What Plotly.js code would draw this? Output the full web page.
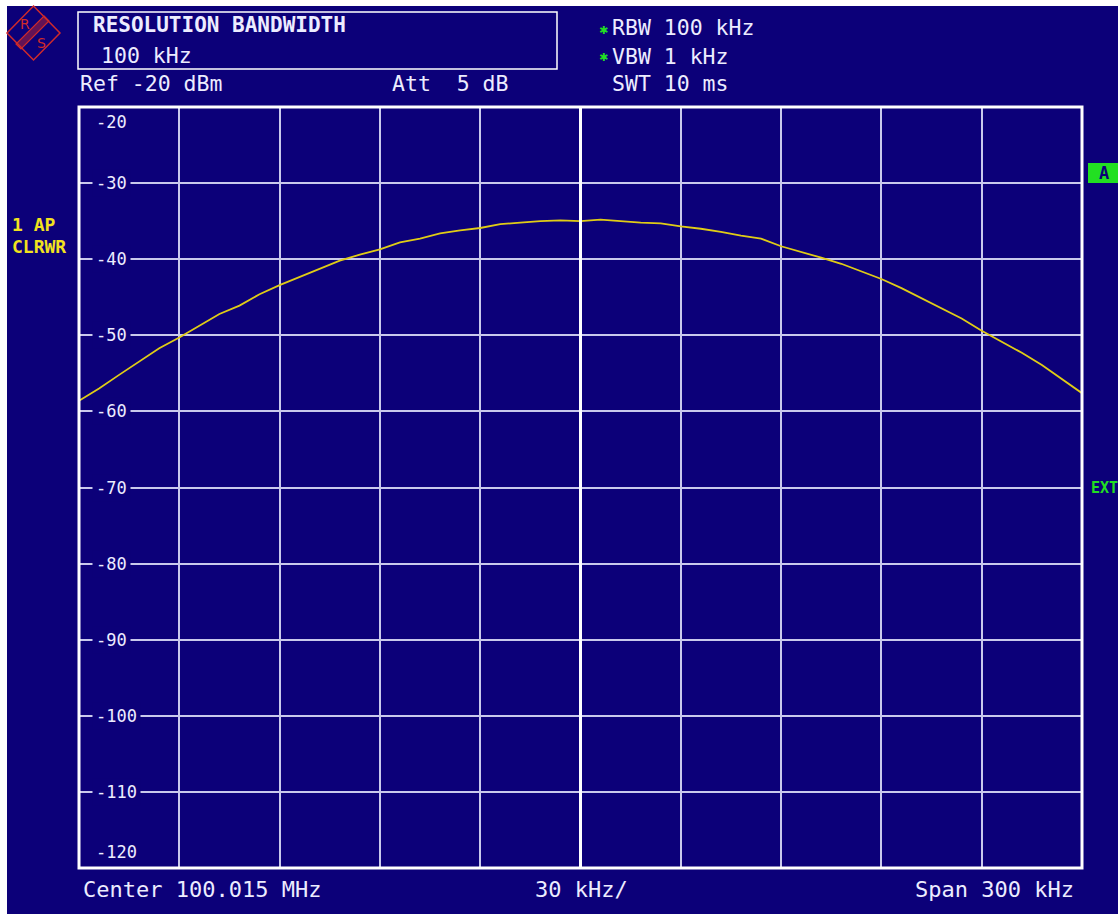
<!DOCTYPE html>
<html>
<head>
<meta charset="utf-8">
<script src="https://cdn.plot.ly/plotly-3.0.1.min.js"></script>
<style>html,body{margin:0;padding:0;background:#ffffff;}#chart{width:1118px;height:914px;}</style>
</head>
<body>
<div id="chart"></div>
<script>
// ---- data ----
const freqOffsetKHz = [-150,-144,-138,-132,-126,-120,-114,-108,-102,-96,-90,-84,-78,-72,-66,-60,-54,-48,-42,-36,-30,-24,-18,-12,-6,0,6,12,18,24,30,36,42,48,54,60,66,72,78,84,90,96,102,108,114,120,126,132,138,144,150];
const levelDBm = [-58.6,-57.0,-55.2,-53.5,-51.7,-50.3,-48.8,-47.2,-46.1,-44.6,-43.4,-42.3,-41.2,-40.2,-39.4,-38.7,-37.8,-37.3,-36.6,-36.2,-35.9,-35.4,-35.2,-35.0,-34.9,-35.0,-34.8,-35.0,-35.2,-35.3,-35.7,-36.0,-36.4,-36.9,-37.3,-38.3,-39.0,-39.8,-40.6,-41.6,-42.6,-43.8,-45.1,-46.4,-47.8,-49.4,-50.8,-52.3,-53.9,-55.8,-57.6];
const yTickValues = [-20,-30,-40,-50,-60,-70,-80,-90,-100,-110,-120];
const yTickLabels = ["-20","-30","-40","-50","-60","-70","-80","-90","-100","-110","-120"];
const headerTitle = "RESOLUTION BANDWIDTH";
const headerValue = "100 kHz";
const refText = "Ref -20 dBm";
const attText = "Att  5 dB";
const rbwText = "RBW 100 kHz";
const vbwText = "VBW 1 kHz";
const swtText = "SWT 10 ms";
const traceLabel1 = "1 AP";
const traceLabel2 = "CLRWR";
const centerText = "Center 100.015 MHz";
const divText = "30 kHz/";
const spanText = "Span 300 kHz";

// ---- layout helpers (pixel -> paper) ----
const W = 1118, H = 914, L = 79, R = 1082, T = 107, B = 868;
const px = x => (x - L) / (R - L);
const py = y => (B - y) / (B - T);
const NAVY = "#0c0079";
const GRID = "#c9c9ec";
const TXT = "#ececff";
const MONO = "DejaVu Sans Mono, Liberation Mono, monospace";

const shapes = [];
shapes.push({type:"rect", xref:"paper", yref:"paper", x0:px(7), x1:px(W+5), y0:py(6), y1:py(H+5),
  fillcolor:NAVY, line:{width:0}, layer:"below"});
shapes.push({type:"line", xref:"x", yref:"paper", x0:0, x1:0, y0:0, y1:1, line:{color:"#ffffff", width:3}});
shapes.push({type:"rect", xref:"paper", yref:"paper", x0:0, x1:1, y0:0, y1:1, line:{color:"#ffffff", width:3}});
shapes.push({type:"rect", xref:"paper", yref:"paper", x0:px(78), x1:px(557), y0:py(12), y1:py(69), line:{color:"#ffffff", width:1.5}});
shapes.push({type:"rect", xref:"paper", yref:"paper", x0:px(1088), x1:px(1125), y0:py(163), y1:py(183), fillcolor:"#22e022", line:{width:0}});
const RED = "#d02a2a";
const dpath = (pts) => "M" + pts.map(p => px(p[0]) + "," + py(p[1])).join(" L") + " Z";
shapes.push({type:"path", xref:"paper", yref:"paper", path:dpath([[33.5,6],[60,33],[33.5,60],[7,33]]), line:{color:RED, width:1.5}});
shapes.push({type:"path", xref:"paper", yref:"paper", path:dpath([[44,16],[49,21],[21,49],[16,44]]), fillcolor:"rgba(208,42,42,0.45)", line:{color:RED, width:1.2}});

const annotations = [];
yTickValues.forEach((v, i) => {
  let yref = "y", y = v, bg = NAVY;
  if (v === -20) { yref = "paper"; y = py(122); bg = "rgba(0,0,0,0)"; }
  if (v === -120) { yref = "paper"; y = py(852); bg = "rgba(0,0,0,0)"; }
  annotations.push({xref:"paper", yref:yref, x:px(92), y:y, xanchor:"left", yanchor:"middle",
    text:yTickLabels[i], showarrow:false, bgcolor:bg, borderpad:3,
    font:{family:MONO, size:17, color:TXT}});
});
const txt = (t, x, y, opts={}) => annotations.push(Object.assign({xref:"paper", yref:"paper", x:px(x), y:py(y),
  xanchor:"left", yanchor:"middle", text:t, showarrow:false,
  font:{family:MONO, size:21.5, color:TXT}}, opts));
txt("<b>" + headerTitle + "</b>", 91, 25, {font:{family:MONO, size:21, color:TXT}});
txt(headerValue, 99, 55);
txt(refText, 78, 84);
txt(attText, 390, 84);
txt("<b>✱</b>", 603, 30, {xanchor:"center", font:{family:"DejaVu Sans", size:11, color:"#22e022"}});
txt("<b>✱</b>", 603, 58, {xanchor:"center", font:{family:"DejaVu Sans", size:11, color:"#22e022"}});
txt(rbwText, 610, 28);
txt(vbwText, 610, 56);
txt(swtText, 610, 84);
txt("<b>" + traceLabel1 + "</b>", 10, 224, {font:{family:MONO, size:18, color:"#f2e21e"}});
txt("<b>" + traceLabel2 + "</b>", 10, 247, {font:{family:MONO, size:18, color:"#f2e21e"}});
txt("<b>A</b>", 1104, 173, {xanchor:"center", font:{family:MONO, size:17, color:NAVY}});
txt("<b>EXT</b>", 1089, 488, {font:{family:MONO, size:15, color:"#22e022"}});
txt(centerText, 81, 889, {font:{family:MONO, size:22, color:TXT}});
txt(divText, 533, 889, {font:{family:MONO, size:22, color:TXT}});
txt(spanText, 1076, 889, {xanchor:"right", font:{family:MONO, size:22, color:TXT}});
txt("R", 25, 24, {xanchor:"center", font:{family:"DejaVu Sans", size:14, color:RED}});
txt("S", 41, 43, {xanchor:"center", font:{family:"DejaVu Sans", size:14, color:RED}});

const trace = {
  x: freqOffsetKHz, y: levelDBm, type:"scatter", mode:"lines",
  line:{color:"#e0cc16", width:1.8, shape:"linear"}, hoverinfo:"skip"
};

const layout = {
  width:W, height:H,
  margin:{l:L, r:W-R, t:T, b:H-B, pad:0},
  paper_bgcolor:"#ffffff", plot_bgcolor:NAVY,
  showlegend:false,
  xaxis:{range:[-150,150], tick0:-150, dtick:30, showgrid:true, gridcolor:GRID, gridwidth:2,
    zeroline:false, showticklabels:false, ticks:"", showline:false, fixedrange:true},
  yaxis:{range:[-120,-20], tick0:-120, dtick:10, showgrid:true, gridcolor:GRID, gridwidth:2,
    zeroline:false, showticklabels:false, ticks:"", showline:false, fixedrange:true},
  shapes:shapes, annotations:annotations
};

Plotly.newPlot("chart", [trace], layout, {staticPlot:true, displayModeBar:false});
</script>
</body>
</html>
